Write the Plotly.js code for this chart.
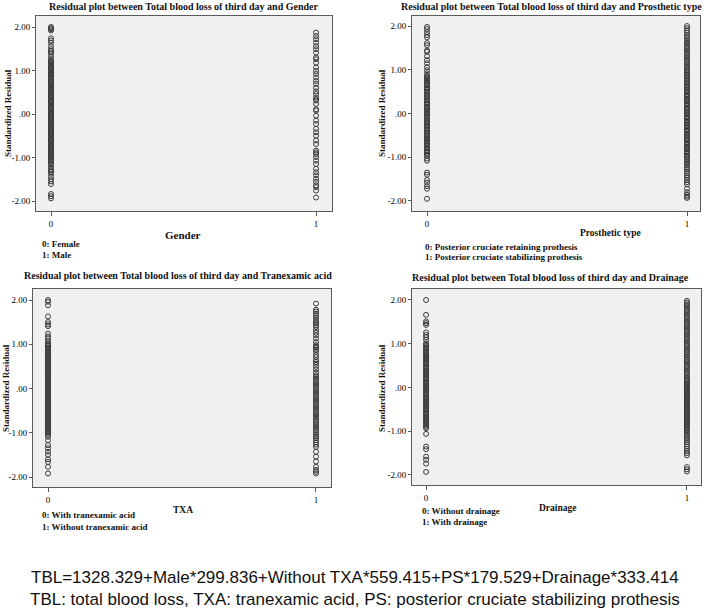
<!DOCTYPE html>
<html><head><meta charset="utf-8">
<script src="https://cdn.plot.ly/plotly-3.0.1.min.js"></script>
<style>html,body{margin:0;padding:0;background:#fff;} #chart{width:709px;height:615px;}</style>
</head><body><div id="chart"></div>
<script>
// ---- tick labels ----
const yTickVals = [-2, -1, 0, 1, 2];
const yTickText = ["-2.00", "-1.00", ".00", "1.00", "2.00"];
const xTickVals = [0, 1];
const xTickText = ["0", "1"];

// ---- standardized residuals ----
const genderFemale = [2.00, 1.97, 1.95, 1.92, 1.74, 1.69, 1.64, 1.56, 1.49, 1.45, 1.42, 1.38, 1.31, 1.25, 1.22, 1.19, 1.17, 1.14, 1.11, 1.08, 1.06, 1.03, 1.00, 0.98, 0.95, 0.92, 0.90, 0.86, 0.84, 0.81, 0.78, 0.75, 0.73, 0.70, 0.66, 0.64, 0.61, 0.58, 0.56, 0.52, 0.50, 0.47, 0.44, 0.41, 0.39, 0.36, 0.33, 0.30, 0.27, 0.25, 0.22, 0.19, 0.16, 0.13, 0.11, 0.08, 0.05, 0.02, -0.01, -0.03, -0.06, -0.09, -0.12, -0.15, -0.17, -0.20, -0.23, -0.26, -0.29, -0.31, -0.34, -0.37, -0.40, -0.43, -0.45, -0.48, -0.51, -0.54, -0.57, -0.60, -0.62, -0.65, -0.68, -0.71, -0.74, -0.77, -0.79, -0.82, -0.85, -0.88, -0.91, -0.94, -0.97, -1.00, -1.03, -1.06, -1.09, -1.13, -1.16, -1.22, -1.27, -1.30, -1.33, -1.37, -1.44, -1.50, -1.55, -1.61, -1.84, -1.89, -1.94];
const genderMale = [1.87, 1.79, 1.72, 1.64, 1.56, 1.49, 1.41, 1.30, 1.26, 1.18, 1.07, 0.99, 0.92, 0.84, 0.76, 0.69, 0.60, 0.52, 0.46, 0.38, 0.34, 0.31, 0.23, 0.11, 0.08, -0.04, -0.15, -0.23, -0.34, -0.42, -0.50, -0.61, -0.69, -0.84, -0.88, -0.92, -0.99, -1.07, -1.15, -1.26, -1.34, -1.41, -1.49, -1.56, -1.64, -1.68, -1.76, -1.92];

const prostheticRetaining = [1.98, 1.93, 1.86, 1.79, 1.74, 1.61, 1.56, 1.44, 1.41, 1.31, 1.22, 1.15, 1.06, 0.99, 0.92, 0.86, 0.83, 0.80, 0.77, 0.74, 0.70, 0.67, 0.64, 0.60, 0.57, 0.54, 0.50, 0.47, 0.43, 0.40, 0.37, 0.33, 0.30, 0.26, 0.23, 0.20, 0.16, 0.13, 0.10, 0.06, 0.03, 0.00, -0.03, -0.07, -0.10, -0.13, -0.17, -0.20, -0.23, -0.27, -0.30, -0.34, -0.37, -0.40, -0.44, -0.47, -0.50, -0.54, -0.57, -0.60, -0.63, -0.67, -0.70, -0.73, -0.77, -0.80, -0.84, -0.87, -0.90, -0.94, -0.97, -1.03, -1.08, -1.35, -1.40, -1.52, -1.58, -1.66, -1.72, -1.95];
const prostheticStabilizing = [2.00, 1.95, 1.90, 1.85, 1.80, 1.76, 1.72, 1.67, 1.63, 1.59, 1.55, 1.51, 1.47, 1.43, 1.39, 1.35, 1.31, 1.27, 1.23, 1.19, 1.15, 1.11, 1.07, 1.03, 0.99, 0.96, 0.92, 0.89, 0.85, 0.82, 0.78, 0.75, 0.71, 0.68, 0.64, 0.61, 0.58, 0.54, 0.51, 0.48, 0.44, 0.41, 0.38, 0.34, 0.31, 0.28, 0.24, 0.21, 0.18, 0.14, 0.11, 0.08, 0.04, 0.01, -0.02, -0.06, -0.09, -0.12, -0.16, -0.19, -0.22, -0.26, -0.29, -0.32, -0.36, -0.39, -0.42, -0.46, -0.49, -0.52, -0.56, -0.59, -0.62, -0.66, -0.69, -0.72, -0.76, -0.79, -0.82, -0.86, -0.89, -0.92, -0.96, -0.99, -1.03, -1.07, -1.11, -1.15, -1.19, -1.24, -1.28, -1.33, -1.37, -1.42, -1.47, -1.52, -1.57, -1.62, -1.72, -1.80, -1.86, -1.90, -1.93];

const txaWith = [2.00, 1.96, 1.88, 1.63, 1.50, 1.45, 1.41, 1.24, 1.18, 1.13, 1.07, 1.02, 0.99, 0.96, 0.93, 0.90, 0.87, 0.84, 0.81, 0.78, 0.75, 0.72, 0.69, 0.66, 0.63, 0.60, 0.57, 0.54, 0.51, 0.48, 0.45, 0.42, 0.39, 0.36, 0.33, 0.30, 0.27, 0.24, 0.21, 0.18, 0.15, 0.12, 0.09, 0.06, 0.03, 0.00, -0.03, -0.06, -0.09, -0.12, -0.15, -0.18, -0.21, -0.24, -0.27, -0.30, -0.33, -0.36, -0.39, -0.42, -0.45, -0.48, -0.51, -0.54, -0.57, -0.60, -0.63, -0.66, -0.69, -0.72, -0.75, -0.78, -0.81, -0.84, -0.87, -0.90, -0.93, -0.96, -0.99, -1.02, -1.05, -1.09, -1.17, -1.28, -1.35, -1.43, -1.50, -1.60, -1.66, -1.77, -1.92];
const txaWithout = [1.92, 1.78, 1.74, 1.69, 1.65, 1.60, 1.54, 1.50, 1.47, 1.43, 1.39, 1.32, 1.26, 1.20, 1.13, 1.05, 0.98, 0.95, 0.92, 0.88, 0.83, 0.76, 0.71, 0.64, 0.60, 0.56, 0.49, 0.43, 0.36, 0.30, 0.26, 0.22, 0.18, 0.14, 0.10, 0.06, 0.02, -0.02, -0.06, -0.10, -0.14, -0.18, -0.22, -0.26, -0.30, -0.34, -0.38, -0.42, -0.46, -0.50, -0.54, -0.58, -0.62, -0.66, -0.71, -0.75, -0.79, -0.83, -0.87, -0.91, -0.95, -0.99, -1.04, -1.08, -1.12, -1.17, -1.22, -1.27, -1.32, -1.43, -1.54, -1.65, -1.77, -1.84, -1.88, -1.92];

const drainageWithout = [2.00, 1.66, 1.51, 1.47, 1.43, 1.26, 1.20, 1.15, 1.09, 1.01, 0.98, 0.95, 0.92, 0.89, 0.86, 0.82, 0.79, 0.76, 0.73, 0.70, 0.67, 0.64, 0.61, 0.58, 0.55, 0.52, 0.48, 0.45, 0.42, 0.39, 0.36, 0.33, 0.30, 0.27, 0.24, 0.21, 0.18, 0.14, 0.11, 0.08, 0.05, 0.02, -0.01, -0.04, -0.07, -0.10, -0.13, -0.16, -0.20, -0.23, -0.26, -0.29, -0.32, -0.35, -0.38, -0.41, -0.44, -0.47, -0.50, -0.53, -0.57, -0.60, -0.63, -0.66, -0.69, -0.72, -0.75, -0.78, -0.81, -0.84, -0.87, -0.90, -0.93, -1.06, -1.35, -1.41, -1.58, -1.65, -1.74, -1.93];
const drainageWith = [1.98, 1.94, 1.90, 1.86, 1.82, 1.78, 1.74, 1.70, 1.66, 1.62, 1.58, 1.54, 1.50, 1.46, 1.42, 1.38, 1.34, 1.30, 1.26, 1.22, 1.18, 1.14, 1.10, 1.06, 1.02, 0.98, 0.94, 0.90, 0.86, 0.82, 0.78, 0.74, 0.70, 0.66, 0.62, 0.58, 0.54, 0.50, 0.46, 0.42, 0.38, 0.34, 0.30, 0.26, 0.22, 0.18, 0.15, 0.12, 0.09, 0.06, 0.03, 0.00, -0.03, -0.06, -0.09, -0.12, -0.15, -0.18, -0.21, -0.24, -0.27, -0.30, -0.33, -0.36, -0.39, -0.42, -0.45, -0.48, -0.51, -0.54, -0.57, -0.60, -0.63, -0.66, -0.69, -0.72, -0.75, -0.78, -0.81, -0.84, -0.87, -0.90, -0.93, -0.96, -1.00, -1.04, -1.08, -1.12, -1.16, -1.20, -1.25, -1.30, -1.35, -1.40, -1.45, -1.50, -1.55, -1.82, -1.87, -1.92];

// ---- texts ----
const panelTitles = [
  "Residual plot between Total blood loss of third day and Gender",
  "Residual plot between Total blood loss of third day and Prosthetic type",
  "Residual plot between Total blood loss of third day and Tranexamic acid",
  "Residual plot between Total blood loss of third day and Drainage"
];
const xTitles = ["Gender", "Prosthetic type", "TXA", "Drainage"];
const yTitle = "Standardized Residual";
const notes = [
  ["0: Female", "1: Male"],
  ["0: Posterior cruciate retaining prothesis", "1: Posterior cruciate stabilizing prothesis"],
  ["0: With tranexamic acid", "1: Without tranexamic acid"],
  ["0: Without drainage", "1: With drainage"]
];
const footer1 = "TBL=1328.329+Male*299.836+Without TXA*559.415+PS*179.529+Drainage*333.414";
const footer2 = "TBL: total blood loss, TXA: tranexamic acid, PS: posterior cruciate stabilizing prothesis";

const seriesByPanel = [
  [genderFemale, genderMale],
  [prostheticRetaining, prostheticStabilizing],
  [txaWith, txaWithout],
  [drainageWithout, drainageWith]
];

// ---- layout geometry (pixels) ----
const W = 709, H = 615;
const px = v => v / W;
const py = v => 1 - v / H;
const geo = [
  {l:36, r:332, t:16, b:211, xr:[-0.0566, 1.06], yr:[-2.23, 2.253],
   title:[183, 6], ytitle:[8, 113], xtitle:[183, 235, 11], notes:[40, 244, 255]},
  {l:412, r:700, t:16, b:211, xr:[-0.0577, 1.05], yr:[-2.229, 2.229],
   title:[551, 6], ytitle:[382, 113], xtitle:[610, 233, 9.5], notes:[423, 247, 257]},
  {l:33, r:331, t:289, b:487, xr:[-0.056, 1.056], yr:[-2.226, 2.249],
   title:[178, 275], ytitle:[6, 388], xtitle:[183, 510, 9.5], notes:[40, 515, 527]},
  {l:412, r:701, t:289, b:485, xr:[-0.054, 1.054], yr:[-2.229, 2.251],
   title:[550, 277], ytitle:[382, 388], xtitle:[557, 508, 9.5], notes:[420, 511, 522]}
];

const serif = "Liberation Serif, Times New Roman, serif";
const sans = "Liberation Sans, Arial, sans-serif";
const traces = [];
const layout = {
  width: W, height: H,
  margin: {l:0, r:0, t:0, b:0},
  paper_bgcolor: "#ffffff",
  showlegend: false,
  annotations: [],
  shapes: []
};

geo.forEach((g, i) => {
  const n = i + 1;
  const xa = n === 1 ? "xaxis" : "xaxis" + n;
  const ya = n === 1 ? "yaxis" : "yaxis" + n;
  const xref = n === 1 ? "x" : "x" + n;
  const yref = n === 1 ? "y" : "y" + n;
  seriesByPanel[i].forEach((vals, k) => {
    traces.push({
      type: "scatter", mode: "markers",
      x: vals.map(() => xTickVals[k]), y: vals,
      xaxis: xref, yaxis: yref,
      marker: {symbol: "circle-open", size: 5, color: "#3a3a3a", line: {width: 1, color: "#3a3a3a"}},
      hoverinfo: "skip"
    });
  });
  const common = {
    showgrid: false, zeroline: false, showline: true, mirror: true,
    linecolor: "#5a5a5a", linewidth: 1,
    ticks: "outside", ticklen: 4, tickwidth: 1, tickcolor: "#5a5a5a",
    tickfont: {family: serif, size: 9, color: "#000000"},
    fixedrange: true
  };
  layout[xa] = Object.assign({}, common, {
    domain: [px(g.l), px(g.r)], range: g.xr, anchor: yref,
    tickvals: xTickVals, ticktext: xTickText
  });
  layout[ya] = Object.assign({}, common, {
    domain: [py(g.b), py(g.t)], range: g.yr, anchor: xref,
    tickvals: yTickVals, ticktext: yTickText, ticklen: 3
  });
  layout.shapes.push({type: "rect", xref: "paper", yref: "paper", layer: "below",
    x0: px(g.l), x1: px(g.r), y0: py(g.b), y1: py(g.t),
    fillcolor: "#f0f0f0", line: {width: 0}});
  layout.annotations.push(
    {text: "<b>" + panelTitles[i] + "</b>", xref: "paper", yref: "paper",
     x: px(g.title[0]), y: py(g.title[1]), xanchor: "center", yanchor: "middle",
     showarrow: false, font: {family: serif, size: 10, color: "#111"}},
    {text: "<b>" + yTitle + "</b>", xref: "paper", yref: "paper", textangle: -90,
     x: px(g.ytitle[0]), y: py(g.ytitle[1]), xanchor: "center", yanchor: "middle",
     showarrow: false, font: {family: serif, size: 9, color: "#111"}},
    {text: "<b>" + xTitles[i] + "</b>", xref: "paper", yref: "paper",
     x: px(g.xtitle[0]), y: py(g.xtitle[1]), xanchor: "center", yanchor: "middle",
     showarrow: false, font: {family: serif, size: g.xtitle[2], color: "#111"}},
    {text: "<b>" + notes[i][0] + "</b>", xref: "paper", yref: "paper",
     x: px(g.notes[0]), y: py(g.notes[1]), xanchor: "left", yanchor: "middle",
     showarrow: false, font: {family: serif, size: 9, color: "#111"}},
    {text: "<b>" + notes[i][1] + "</b>", xref: "paper", yref: "paper",
     x: px(g.notes[0]), y: py(g.notes[2]), xanchor: "left", yanchor: "middle",
     showarrow: false, font: {family: serif, size: 9, color: "#111"}}
  );
});

layout.annotations.push(
  {text: footer1, xref: "paper", yref: "paper", x: px(355), y: py(577),
   xanchor: "center", yanchor: "middle", showarrow: false,
   font: {family: sans, size: 17, color: "#111"}},
  {text: footer2, xref: "paper", yref: "paper", x: px(355), y: py(599),
   xanchor: "center", yanchor: "middle", showarrow: false,
   font: {family: sans, size: 17, color: "#111"}}
);

Plotly.newPlot("chart", traces, layout, {displayModeBar: false, staticPlot: true});
</script>
</body></html>
